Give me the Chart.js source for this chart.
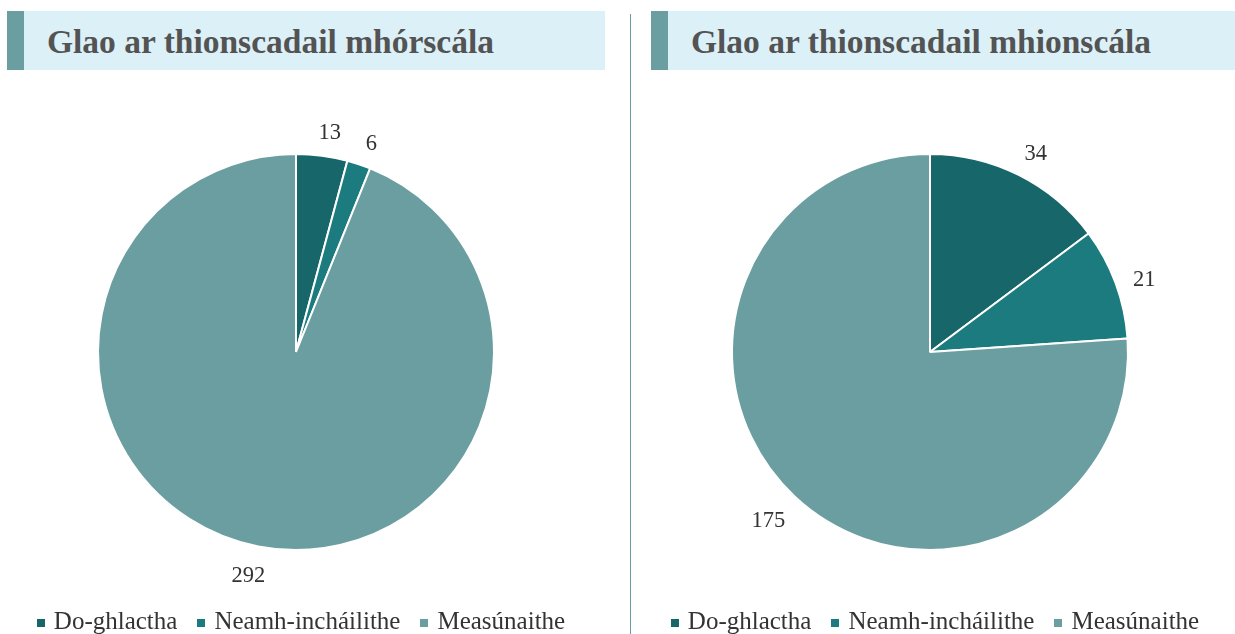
<!DOCTYPE html>
<html>
<head>
<meta charset="utf-8">
<script src="https://cdn.jsdelivr.net/npm/chart.js@4"></script>
<style>
body { margin:0; background:#fff; width:1235px; height:634px; overflow:hidden; position:relative; font-family:"Liberation Serif", "Times New Roman", serif; }
.title { position:absolute; top:11px; height:59px; background:#dbf0f7; }
.title .bar { position:absolute; left:0; top:0; width:17px; height:59px; background:#6b9ea0; }
.title span { position:absolute; left:40px; top:14px; line-height:34px; font-size:33.5px; font-weight:bold; color:#535353; white-space:nowrap; }
.sep { position:absolute; left:630px; top:14px; width:1px; height:620px; background:#6b9ea0; }
.box { position:absolute; top:80px; width:600px; height:554px; }
.legend { position:absolute; top:608px; width:600px; display:flex; justify-content:center; font-size:25px; line-height:25px; color:#333; white-space:nowrap; }
.legend .item { margin:0 10px; }
.legend .sq { display:inline-block; width:8px; height:8px; margin-right:9px; vertical-align:middle; }
</style>
</head>
<body>
<div class="title" style="left:7px;width:598px;"><div class="bar"></div><span>Glao ar thionscadail mhórscála</span></div>
<div class="title" style="left:651px;width:584px;"><div class="bar"></div><span>Glao ar thionscadail mhionscála</span></div>
<div class="sep"></div>
<div class="box" style="left:0px;"><canvas id="pie1" width="600" height="554"></canvas></div>
<div class="box" style="left:634px;"><canvas id="pie2" width="600" height="554"></canvas></div>
<div class="legend" id="leg1" style="left:1px;"></div>
<div class="legend" id="leg2" style="left:635px;"></div>
<script>
var categories = ["Do-ghlactha", "Neamh-incháilithe", "Measúnaithe"];
var mhorscala = [13, 6, 292];
var mhionscala = [34, 21, 175];
var colours = ["#17666a", "#1b7b7e", "#6b9ea0"];

// labels outside the slices, pushed out by half the text box
var outsideLabels = {
	id: "outsideLabels",
	afterDatasetsDraw: function(chart) {
		var ctx = chart.ctx;
		var meta = chart.getDatasetMeta(0);
		var data = chart.data.datasets[0].data;
		ctx.save();
		ctx.font = "22.5px 'Liberation Serif', serif";
		ctx.fillStyle = "#333";
		ctx.textAlign = "center";
		ctx.textBaseline = "middle";
		meta.data.forEach(function(arc, i) {
			var p = arc.getProps(["x", "y", "startAngle", "endAngle", "outerRadius"], true);
			var mid = (p.startAngle + p.endAngle) / 2 + 0.02;
			var txt = String(data[i]);
			var w = ctx.measureText(txt).width;
			var c = Math.cos(mid), s = Math.sin(mid);
			var r = p.outerRadius + 15 + Math.abs(c) * w / 2 + Math.abs(s) * 10;
			ctx.fillText(txt, p.x + c * r, p.y + s * r + 3);
		});
		ctx.restore();
	}
};

function makePie(id, values) {
	var ctx = document.getElementById(id);
	return new Chart(ctx, {
		type: "pie",
		data: {
			labels: categories,
			datasets: [{
				data: values,
				backgroundColor: colours,
				borderColor: "#ffffff",
				borderWidth: 2
			}]
		},
		options: {
			responsive: false,
			animation: false,
			layout: { padding: { left: 97, right: 105, top: 73, bottom: 83 } },
			plugins: { legend: { display: false }, tooltip: { enabled: false } }
		},
		plugins: [outsideLabels]
	});
}

function makeLegend(id) {
	var el = document.getElementById(id);
	var html = "";
	for (var i in categories) {
		html += '<span class="item"><span class="sq" style="background:' + colours[i] + '"></span>' + categories[i] + '</span>';
	}
	el.innerHTML = html;
}

makePie("pie1", mhorscala);
makePie("pie2", mhionscala);
makeLegend("leg1");
makeLegend("leg2");
</script>
</body>
</html>
